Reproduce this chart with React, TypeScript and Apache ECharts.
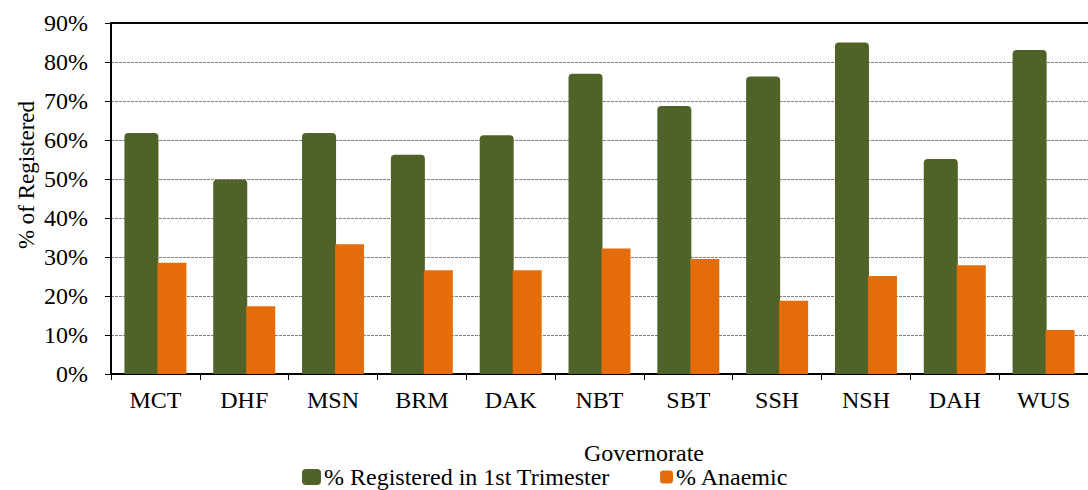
import React, { useEffect, useRef } from "react";
import * as echarts from "echarts";

const categories = ["MCT", "DHF", "MSN", "BRM", "DAK", "NBT", "SBT", "SSH", "NSH", "DAH", "WUS"];
const registeredFirstTrimester = [61.8, 49.9, 61.8, 56.2, 61.2, 77.0, 68.7, 76.3, 85.0, 55.1, 83.1];
const anaemic = [28.5, 17.4, 33.3, 26.6, 26.6, 32.2, 29.5, 18.8, 25.1, 27.9, 11.3];
const seriesNames = ["% Registered in 1st Trimester", "% Anaemic"];
const yTitle = "% of Registered";
const xTitle = "Governorate";

const FONT = "Liberation Serif";
const FS = 24;
const GREEN = "#4F6228";
const ORANGE = "#E46C0A";

export default function App() {
  const ref = useRef<HTMLDivElement>(null);
  useEffect(() => {
    if (!ref.current) return;
    const chart = echarts.init(ref.current, null, { renderer: "svg" });
    chart.setOption({
      animation: false,
      backgroundColor: "#ffffff",
      textStyle: { fontFamily: FONT, color: "#000" },
      grid: { left: 111, right: -13, top: 23, bottom: 116, containLabel: false },
      legend: [
        {
          data: [seriesNames[0]],
          left: 302,
          top: 465,
          padding: 0,
          itemWidth: 19,
          itemHeight: 16,
          itemGap: 0,
          textStyle: { fontFamily: FONT, fontSize: FS, lineHeight: 24, color: "#000", padding: [0, 0, 0, -2] },
        },
        {
          data: [seriesNames[1]],
          left: 660,
          top: 465,
          padding: 0,
          itemWidth: 13,
          itemHeight: 13,
          itemGap: 0,
          textStyle: { fontFamily: FONT, fontSize: FS, lineHeight: 24, color: "#000", padding: [0, 0, 0, -2] },
        },
      ],
      xAxis: [
        {
          type: "category",
          data: categories,
          position: "bottom",
          axisLine: { show: true, lineStyle: { color: "#000", width: 2 } },
          axisTick: { show: true, alignWithLabel: false, length: 6, lineStyle: { color: "#000", width: 1 } },
          axisLabel: { fontFamily: FONT, fontSize: FS, color: "#000", margin: 14 },
          splitLine: { show: false },
        },
        {
          type: "category",
          data: categories,
          position: "top",
          axisLine: { show: true, lineStyle: { color: "#000", width: 2 } },
          axisTick: { show: false },
          axisLabel: { show: false },
        },
      ],
      yAxis: {
        type: "value",
        min: 0,
        max: 90,
        interval: 10,
        axisLine: { show: true, lineStyle: { color: "#000", width: 2 } },
        axisTick: { show: true, length: 6, lineStyle: { color: "#000", width: 1 } },
        axisLabel: { formatter: "{value}%", fontFamily: FONT, fontSize: FS, color: "#000", margin: 23 },
        splitLine: { show: true, lineStyle: { color: "#7f7f7f", type: [3, 1], width: 1 } },
      },
      graphic: [
        {
          type: "text",
          x: 26,
          y: 175,
          rotation: Math.PI / 2,
          style: {
            text: yTitle,
            fontFamily: FONT,
            fontSize: 23,
            fill: "#000",
            textAlign: "center",
            textVerticalAlign: "middle",
          },
        },
        {
          type: "text",
          x: 644,
          y: 453,
          style: {
            text: xTitle,
            fontFamily: FONT,
            fontSize: FS,
            fill: "#000",
            textAlign: "center",
            textVerticalAlign: "middle",
          },
        },
      ],
      series: [
        {
          name: seriesNames[0],
          type: "bar",
          data: registeredFirstTrimester,
          barWidth: 34,
          barGap: "-3%",
          itemStyle: { color: GREEN, borderRadius: [4, 4, 0, 0] },
        },
        {
          name: seriesNames[1],
          type: "bar",
          data: anaemic,
          barWidth: 29,
          itemStyle: { color: ORANGE },
        },
      ],
    });
    return () => chart.dispose();
  }, []);
  return (
    <div
      ref={ref}
      style={{ position: "fixed", left: 0, top: 0, width: 1088, height: 490, background: "#fff" }}
    />
  );
}
